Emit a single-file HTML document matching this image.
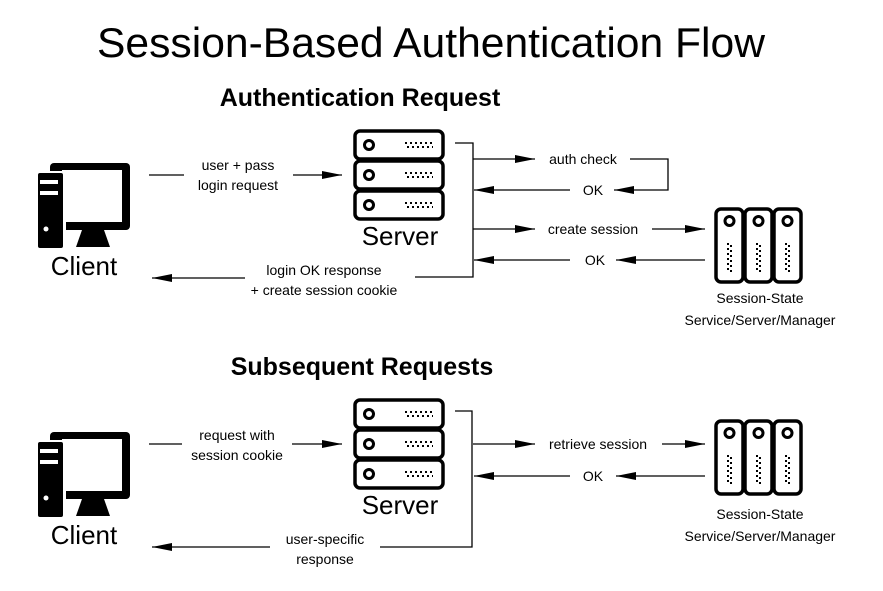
<!DOCTYPE html>
<html><head><meta charset="utf-8"><style>
html,body{margin:0;padding:0;background:#fff;}
svg{display:block;}
text{font-family:"Liberation Sans",sans-serif;fill:#000;}
.s{font-size:14px;text-anchor:middle;}
.b{font-size:26px;text-anchor:middle;}
</style></head><body>
<svg width="883" height="591" viewBox="0 0 883 591" xmlns="http://www.w3.org/2000/svg">
<defs>
<marker id="ar" viewBox="0 0 20 10" refX="20" refY="5" markerWidth="20" markerHeight="10" markerUnits="userSpaceOnUse" orient="auto">
<path d="M0,1 L20,5 L0,9 Z" fill="#000"/>
</marker>
<g id="srv">
<rect x="355" y="131" width="88" height="28" rx="5" fill="#fff" stroke="#000" stroke-width="3.5"/>
<rect x="355" y="161" width="88" height="28" rx="5" fill="#fff" stroke="#000" stroke-width="3.5"/>
<rect x="355" y="191" width="88" height="28" rx="5" fill="#fff" stroke="#000" stroke-width="3.5"/>
<g fill="none" stroke="#000" stroke-width="3"><circle cx="369" cy="145" r="4.5"/><circle cx="369" cy="175" r="4.5"/><circle cx="369" cy="205" r="4.5"/></g>
<g stroke="#000" stroke-width="2" stroke-dasharray="2 3">
<line x1="405" y1="143" x2="433" y2="143"/><line x1="407" y1="147" x2="433" y2="147"/>
<line x1="405" y1="173" x2="433" y2="173"/><line x1="407" y1="177" x2="433" y2="177"/>
<line x1="405" y1="203" x2="433" y2="203"/><line x1="407" y1="207" x2="433" y2="207"/>
</g>
</g>
<g id="cli">
<rect x="50" y="163" width="80" height="67" rx="4" fill="#000"/>
<rect x="62" y="170" width="60" height="52" fill="#fff"/>
<path d="M82,230 L104,230 L110,247 L76,247 Z" fill="#000"/>
<rect x="36" y="171" width="30" height="79" fill="#fff"/>
<rect x="38" y="173" width="25" height="75" rx="2" fill="#000"/>
<rect x="40" y="180" width="18" height="4" fill="#fff"/>
<rect x="40" y="191" width="18" height="4" fill="#fff"/>
<circle cx="46" cy="229" r="2.5" fill="#fff"/>
</g>
<g id="ses">
<g fill="#fff" stroke="#000" stroke-width="3.5">
<rect x="716" y="209" width="27" height="73" rx="5"/>
<rect x="745" y="209" width="27" height="73" rx="5"/>
<rect x="774" y="209" width="27" height="73" rx="5"/>
</g>
<g fill="none" stroke="#000" stroke-width="3"><circle cx="729.5" cy="221" r="4.5"/><circle cx="758.5" cy="221" r="4.5"/><circle cx="787.5" cy="221" r="4.5"/></g>
<g stroke="#000" stroke-width="2" stroke-dasharray="2 3">
<line x1="728" y1="243" x2="728" y2="272"/><line x1="731" y1="245" x2="731" y2="272"/>
<line x1="757" y1="243" x2="757" y2="272"/><line x1="760" y1="245" x2="760" y2="272"/>
<line x1="786" y1="243" x2="786" y2="272"/><line x1="789" y1="245" x2="789" y2="272"/>
</g>
</g>
</defs>

<text x="431" y="57" style="font-size:42px;text-anchor:middle" textLength="668" lengthAdjust="spacingAndGlyphs">Session-Based Authentication Flow</text>
<text x="360" y="106" style="font-size:25px;font-weight:bold;text-anchor:middle">Authentication Request</text>
<text x="362" y="375" style="font-size:25px;font-weight:bold;text-anchor:middle">Subsequent Requests</text>

<!-- Section 1 -->
<use href="#srv"/><use href="#cli"/><use href="#ses"/>
<text class="b" x="84" y="275">Client</text>
<text class="b" x="400" y="245">Server</text>
<text class="s" x="760" y="303">Session-State</text>
<text class="s" x="760" y="325">Service/Server/Manager</text>
<g stroke="#000" stroke-width="1.3" fill="none">
<line x1="149" y1="175" x2="184" y2="175"/>
<line x1="293" y1="175" x2="342" y2="175" marker-end="url(#ar)"/>
<polyline points="455,143 473,143 473,277 415,277"/>
<line x1="245" y1="278" x2="152" y2="278" marker-end="url(#ar)"/>
<line x1="473" y1="159" x2="535" y2="159" marker-end="url(#ar)"/>
<polyline points="630,159 668,159 668,190 614,190" marker-end="url(#ar)"/>
<line x1="570" y1="190" x2="474" y2="190" marker-end="url(#ar)"/>
<line x1="473" y1="229" x2="535" y2="229" marker-end="url(#ar)"/>
<line x1="652" y1="229" x2="705" y2="229" marker-end="url(#ar)"/>
<line x1="705" y1="260" x2="616" y2="260" marker-end="url(#ar)"/>
<line x1="570" y1="260" x2="474" y2="260" marker-end="url(#ar)"/>
</g>
<text class="s" x="238" y="170">user + pass</text>
<text class="s" x="238" y="190">login request</text>
<text class="s" x="324" y="275">login OK response</text>
<text class="s" x="324" y="295">+ create session cookie</text>
<text class="s" x="583" y="164">auth check</text>
<text class="s" x="593" y="195">OK</text>
<text class="s" x="593" y="234">create session</text>
<text class="s" x="595" y="265">OK</text>

<!-- Section 2 -->
<g transform="translate(0,269)"><use href="#srv"/><use href="#cli"/></g>
<g transform="translate(0,212)"><use href="#ses"/></g>
<text class="b" x="84" y="544">Client</text>
<text class="b" x="400" y="514">Server</text>
<text class="s" x="760" y="519">Session-State</text>
<text class="s" x="760" y="541">Service/Server/Manager</text>
<g stroke="#000" stroke-width="1.3" fill="none">
<line x1="149" y1="444" x2="182" y2="444"/>
<line x1="292" y1="444" x2="342" y2="444" marker-end="url(#ar)"/>
<polyline points="455,411 472,411 472,547 380,547"/>
<line x1="270" y1="547" x2="152" y2="547" marker-end="url(#ar)"/>
<line x1="473" y1="444" x2="535" y2="444" marker-end="url(#ar)"/>
<line x1="662" y1="444" x2="705" y2="444" marker-end="url(#ar)"/>
<line x1="705" y1="476" x2="616" y2="476" marker-end="url(#ar)"/>
<line x1="570" y1="476" x2="474" y2="476" marker-end="url(#ar)"/>
</g>
<text class="s" x="237" y="440">request with</text>
<text class="s" x="237" y="460">session cookie</text>
<text class="s" x="325" y="544">user-specific</text>
<text class="s" x="325" y="564">response</text>
<text class="s" x="598" y="449">retrieve session</text>
<text class="s" x="593" y="481">OK</text>
</svg>
</body></html>
